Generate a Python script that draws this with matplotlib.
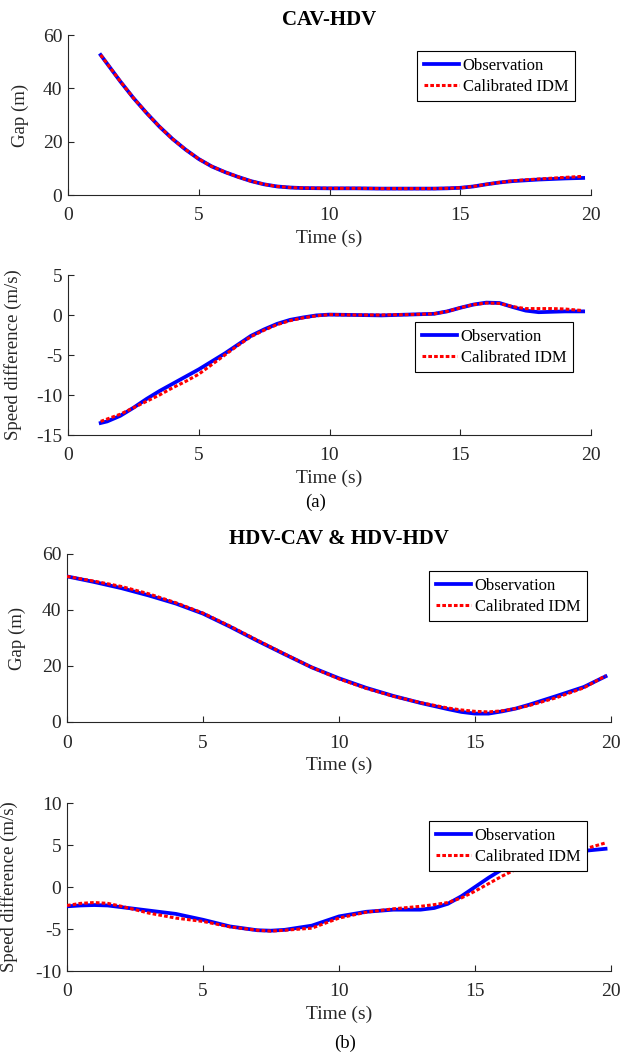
import matplotlib
matplotlib.use("Agg")
import matplotlib.pyplot as plt

# ---- colours / style (MATLAB look) -----------------------------------------
BLUE = "#0000FF"
RED = "#FF0000"
AXC = "#262626"
W, H = 634, 1054

plt.rcParams.update({
    "font.family": ["Liberation Serif", "DejaVu Serif"],
    "axes.unicode_minus": False,
    "axes.edgecolor": AXC,
    "axes.linewidth": 0.8,
    "xtick.color": AXC,
    "ytick.color": AXC,
    "xtick.direction": "in",
    "ytick.direction": "in",
    "font.size": 13.5,
})

# ---- (a) CAV-HDV: gap ------------------------------------------------------
t_gap_a = [1.25, 1.5, 2, 2.5, 3, 3.5, 4, 4.5, 5, 5.5, 6, 6.5, 7, 7.5, 8, 8.5,
           9, 10, 11, 12, 13, 14, 14.5, 15, 15.5, 16, 16.5, 17, 17.5, 18,
           18.5, 19, 19.7]
gap_obs_a = [52.5, 49.2, 42.6, 36.4, 30.8, 25.6, 21.0, 17.0, 13.5, 10.7, 8.6,
             6.8, 5.2, 4.0, 3.2, 2.8, 2.6, 2.5, 2.5, 2.4, 2.4, 2.4, 2.5, 2.7,
             3.2, 4.0, 4.7, 5.2, 5.5, 5.8, 6.0, 6.2, 6.4]
gap_idm_a = [52.5, 49.2, 42.6, 36.4, 30.8, 25.6, 21.0, 17.0, 13.5, 10.7, 8.6,
             6.8, 5.2, 4.0, 3.2, 2.8, 2.6, 2.5, 2.5, 2.4, 2.4, 2.4, 2.5, 2.7,
             3.2, 4.0, 4.7, 5.3, 5.7, 6.0, 6.3, 6.6, 7.0]

# ---- (a) CAV-HDV: speed difference -----------------------------------------
t_dv_a = [1.25, 1.5, 2, 2.5, 3, 3.5, 4, 4.5, 5, 5.5, 6, 6.5, 7, 7.5, 8, 8.5,
          9, 9.5, 10, 11, 12, 13, 14, 14.5, 15, 15.5, 16, 16.5, 17, 17.5, 18,
          18.5, 19, 19.7]
dv_obs_a = [-13.5, -13.3, -12.6, -11.6, -10.5, -9.5, -8.6, -7.7, -6.8, -5.8,
            -4.8, -3.7, -2.6, -1.8, -1.1, -0.6, -0.3, -0.05, 0.05, 0.0, -0.05,
            0.05, 0.15, 0.45, 0.9, 1.3, 1.55, 1.5, 1.0, 0.55, 0.35, 0.4, 0.45,
            0.45]
dv_idm_a = [-13.3, -13.0, -12.4, -11.6, -10.8, -10.0, -9.1, -8.3, -7.4, -6.2,
            -5.0, -3.8, -2.7, -1.9, -1.2, -0.7, -0.35, -0.1, 0.05, 0.0, 0.0,
            0.05, 0.15, 0.45, 0.9, 1.3, 1.5, 1.45, 1.05, 0.8, 0.8, 0.8, 0.75,
            0.55]

# ---- (b) HDV-CAV & HDV-HDV: gap --------------------------------------------
t_gap_b = [0, 1, 2, 3, 4, 5, 6, 7, 8, 9, 10, 11, 12, 13, 14, 14.5, 15, 15.5,
           16, 16.5, 17, 18, 19, 19.8]
gap_obs_b = [52.0, 50.0, 47.8, 45.2, 42.3, 38.7, 34.0, 29.0, 24.2, 19.5, 15.6,
             12.2, 9.3, 6.8, 4.6, 3.6, 3.0, 3.0, 3.8, 4.8, 6.2, 9.3, 12.5, 16.3]
gap_idm_b = [52.0, 50.3, 48.4, 45.8, 42.6, 38.9, 34.2, 29.2, 24.3, 19.5, 15.4,
             12.0, 9.2, 6.9, 5.0, 4.3, 3.8, 3.6, 4.0, 4.8, 5.9, 8.7, 12.2, 16.5]

# ---- (b) HDV-CAV & HDV-HDV: speed difference -------------------------------
t_dv_b = [0, 0.5, 1, 1.5, 2, 3, 4, 5, 6, 7, 7.5, 8, 9, 10, 11, 12, 13, 13.5,
          14, 14.5, 15, 15.5, 16, 16.5, 17, 18, 19, 19.8]
dv_obs_b = [-2.3, -2.2, -2.15, -2.2, -2.4, -2.8, -3.2, -3.9, -4.7, -5.15, -5.2,
            -5.1, -4.6, -3.5, -2.95, -2.7, -2.7, -2.5, -2.0, -1.1, 0.0, 1.1,
            2.1, 2.9, 3.4, 3.9, 4.3, 4.55]
dv_idm_b = [-2.2, -1.95, -1.85, -1.95, -2.3, -3.1, -3.7, -4.1, -4.75, -5.15,
            -5.25, -5.15, -4.9, -3.7, -3.0, -2.6, -2.3, -2.1, -1.85, -1.3, -0.5,
            0.4, 1.3, 2.1, 2.7, 3.6, 4.5, 5.25]

x_ticks = [0, 5, 10, 15, 20]


def px_rect(x0, y0, x1, y1):
    """Pixel box (top-left origin) -> figure fraction rect."""
    return [x0 / W, 1 - y1 / H, (x1 - x0) / W, (y1 - y0) / H]


def panel(fig, box, t, obs, idm, ylim, yticks, ylabel, ylab_x, leg_px,
          title=None):
    ax = fig.add_axes(px_rect(*box))
    ax.plot(t, obs, color=BLUE, lw=2.7, label="Observation", zorder=3)
    ax.plot(t, idm, color=RED, lw=2.2, ls=(0, (1.2, 0.7)),
            label="Calibrated IDM", zorder=4)
    ax.set_xlim(0, 20)
    ax.set_ylim(*ylim)
    ax.set_xticks(x_ticks)
    ax.set_yticks(yticks)
    for s in ("top", "right"):
        ax.spines[s].set_visible(False)
    ax.tick_params(axis="x", length=4, width=0.8, pad=9, labelsize=14)
    ax.tick_params(axis="y", length=4, width=0.8, pad=4, labelsize=14)
    ax.set_xlabel("Time (s)", fontsize=14, labelpad=4, color=AXC)
    ax.set_ylabel(ylabel, fontsize=13.5, color=AXC)
    ax.yaxis.set_label_coords(ylab_x, 0.5)
    if title:
        ax.set_title(title, fontsize=15, weight="bold", pad=7)
    leg = ax.legend(loc="upper left",
                    bbox_to_anchor=(leg_px[0] / W, 1 - leg_px[1] / H),
                    bbox_transform=fig.transFigure, borderaxespad=0,
                    fontsize=12, handlelength=2.1, handletextpad=0.25,
                    borderpad=0.4, labelspacing=0.3, fancybox=False,
                    framealpha=1, edgecolor="black")
    leg.get_frame().set_linewidth(0.8)
    return ax


fig = plt.figure(figsize=(W / 100, H / 100), dpi=100)

panel(fig, (68, 35, 591, 195), t_gap_a, gap_obs_a, gap_idm_a, (0, 60),
      [0, 20, 40, 60], "Gap (m)", -0.075, (417, 51), title="CAV-HDV")
panel(fig, (68, 275, 591, 435), t_dv_a, dv_obs_a, dv_idm_a, (-15, 5),
      [-15, -10, -5, 0, 5], "Speed difference (m/s)", -0.088, (415, 322))
fig.text(316 / W, 1 - 502 / H, "(a)", ha="center", va="center", fontsize=13.5)

panel(fig, (67, 554, 611, 722), t_gap_b, gap_obs_b, gap_idm_b, (0, 60),
      [0, 20, 40, 60], "Gap (m)", -0.075, (429, 571),
      title="HDV-CAV & HDV-HDV")
panel(fig, (67, 803, 611, 971), t_dv_b, dv_obs_b, dv_idm_b, (-10, 10),
      [-10, -5, 0, 5, 10], "Speed difference (m/s)", -0.09, (429, 821))
fig.text(345 / W, 1 - 1043 / H, "(b)", ha="center", va="center", fontsize=13.5)

fig.savefig("out.png", dpi=100, facecolor="white")
